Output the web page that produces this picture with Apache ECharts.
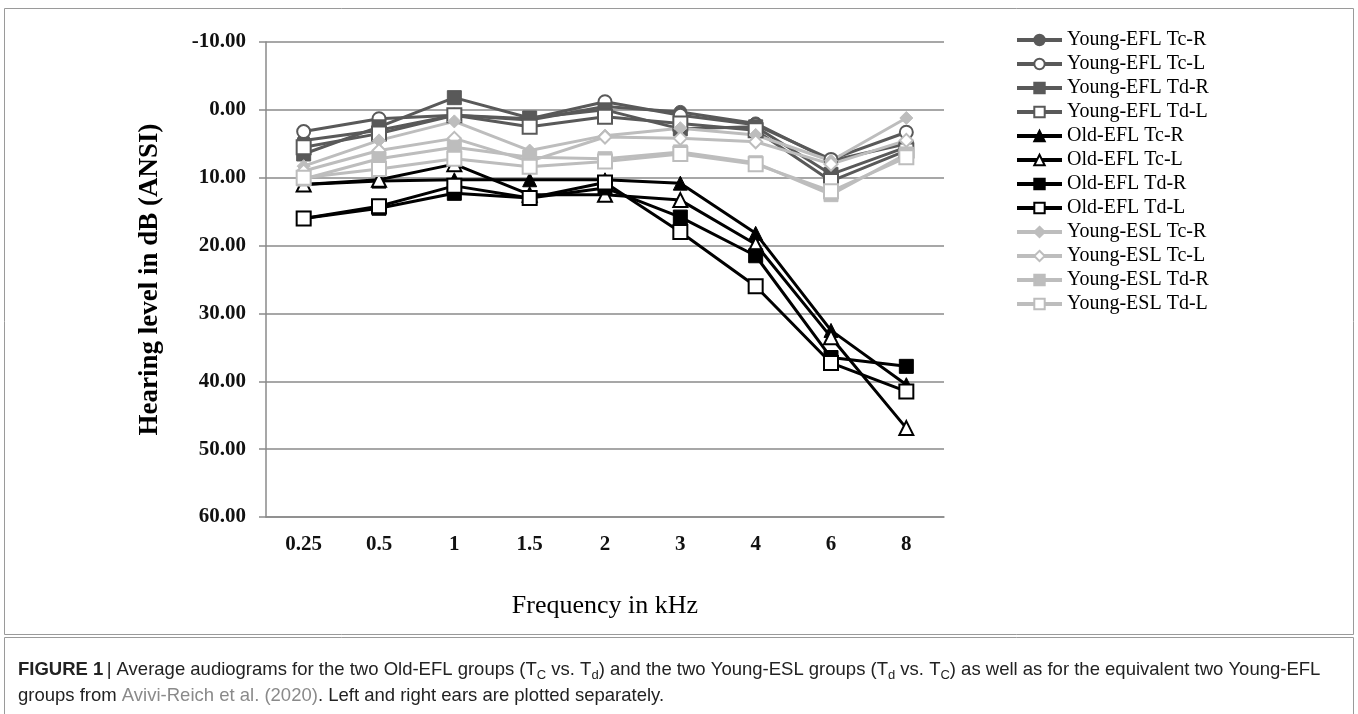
<!DOCTYPE html>
<html>
<head>
<meta charset="utf-8">
<title>Average audiograms</title>
<script src="https://cdn.jsdelivr.net/npm/echarts@6/dist/echarts.min.js"></script>
<style>
  html, body { margin: 0; padding: 0; background: #fff; }
  #chart { width: 1358px; height: 714px; }
</style>
</head>
<body>
<div id="chart"></div>
<script>
// frequencies (kHz)
const categories = ['0.25', '0.5', '1', '1.5', '2', '3', '4', '6', '8']

// hearing level in dB
const youngEflTcR = [4.5, 3.0, 0.8, 1.5, -0.5, 0.3, 2.0, 7.5, 5.0]
const youngEflTcL = [3.2, 1.3, 0.8, 1.3, -1.2, 0.8, 2.2, 7.3, 3.3]
const youngEflTdR = [6.5, 2.5, -1.8, 1.2, 0.0, 2.8, 2.5, 9.5, 5.5]
const youngEflTdL = [5.5, 3.5, 0.8, 2.5, 1.0, 2.0, 3.0, 10.5, 6.0]
const oldEflTcR = [11.0, 10.5, 10.3, 10.3, 10.3, 10.8, 18.2, 32.5, 40.5]
const oldEflTcL = [11.0, 10.3, 8.0, 12.5, 12.5, 13.3, 19.8, 33.5, 46.9]
const oldEflTdR = [16.0, 14.5, 12.3, 13.0, 11.5, 15.8, 21.5, 36.5, 37.8]
const oldEflTdL = [16.0, 14.2, 11.2, 13.0, 10.7, 18.0, 26.0, 37.3, 41.5]
const youngEslTcR = [8.3, 4.5, 1.7, 6.0, 3.8, 2.7, 3.7, 7.5, 1.2]
const youngEslTcL = [9.0, 6.0, 4.2, 7.6, 4.0, 4.2, 4.7, 8.0, 4.5]
const youngEslTdR = [10.2, 7.2, 5.5, 7.0, 7.2, 6.2, 7.8, 12.5, 6.5]
const youngEslTdL = [10.0, 8.7, 7.2, 8.4, 7.6, 6.5, 8.0, 12.0, 7.0]

const yMin = -10
const yMax = 60
const yStep = 10

const DARK = '#595959'
const BLACK = '#000000'
const LIGHT = '#bdbdbd'
const SERIF = '"Liberation Serif", "Times New Roman", serif'
const SANS = '"Liberation Sans Narrow", "Liberation Sans", Arial, sans-serif'

// name, values, colour, symbol, open marker?
const seriesDefs = [
  ['Young-EFL Tc-R', youngEflTcR, DARK, 'circle', false],
  ['Young-EFL Tc-L', youngEflTcL, DARK, 'circle', true],
  ['Young-EFL Td-R', youngEflTdR, DARK, 'rect', false],
  ['Young-EFL Td-L', youngEflTdL, DARK, 'rect', true],
  ['Old-EFL Tc-R', oldEflTcR, BLACK, 'triangle', false],
  ['Old-EFL Tc-L', oldEflTcL, BLACK, 'triangle', true],
  ['Old-EFL Td-R', oldEflTdR, BLACK, 'rect', false],
  ['Old-EFL Td-L', oldEflTdL, BLACK, 'rect', true],
  ['Young-ESL Tc-R', youngEslTcR, LIGHT, 'diamond', false],
  ['Young-ESL Tc-L', youngEslTcL, LIGHT, 'diamond', true],
  ['Young-ESL Td-R', youngEslTdR, LIGHT, 'rect', false],
  ['Young-ESL Td-L', youngEslTdL, LIGHT, 'rect', true]
]

const symbolSizes = { circle: 13, rect: 14, triangle: 14, diamond: 13 }

const series = seriesDefs.map(([name, values, color, symbol, open]) => ({
  name: name,
  type: 'line',
  data: values,
  symbol: symbol,
  symbolSize: symbolSizes[symbol],
  showAllSymbol: true,
  lineStyle: { color: color, width: 3 },
  itemStyle: open
    ? { color: '#ffffff', borderColor: color, borderWidth: 2 }
    : { color: color, borderColor: color, borderWidth: 1 },
  emphasis: { disabled: true }
}))

const myChart = echarts.init(document.getElementById('chart'), null, { renderer: 'canvas' })

const option = {
  backgroundColor: '#ffffff',
  animation: false,
  grid: {
    left: 266,
    right: 414,
    top: 42,
    bottom: 197
  },
  legend: {
    orient: 'vertical',
    left: 1015,
    top: 28,
    padding: 0,
    itemWidth: 45,
    itemHeight: 13,
    itemGap: 0,
    lineStyle: { width: 4 },
    textStyle: {
      fontFamily: SERIF,
      fontSize: 20,
      color: '#000',
      lineHeight: 24
    },
    data: seriesDefs.map(d => d[0])
  },
  xAxis: {
    type: 'category',
    data: categories,
    boundaryGap: true,
    name: 'Frequency in kHz',
    nameLocation: 'middle',
    nameGap: 76,
    nameTextStyle: { fontFamily: SERIF, fontSize: 26, color: '#000' },
    axisLine: { onZero: false, lineStyle: { color: '#8a8a8a', width: 1.5 } },
    axisTick: { show: false },
    axisLabel: {
      margin: 17,
      fontFamily: SERIF,
      fontSize: 21,
      fontWeight: 'bold',
      color: '#111'
    }
  },
  yAxis: {
    type: 'value',
    inverse: true,
    min: yMin,
    max: yMax,
    interval: yStep,
    name: 'Hearing level in dB (ANSI)',
    nameLocation: 'middle',
    nameGap: 102,
    nameTextStyle: { fontFamily: SERIF, fontSize: 27, fontWeight: 'bold', color: '#000' },
    axisLine: { show: true, lineStyle: { color: '#8a8a8a', width: 1.5 } },
    axisTick: { show: true, length: 7, lineStyle: { color: '#8a8a8a', width: 1.5 } },
    splitLine: { lineStyle: { color: '#8a8a8a', width: 1.5 } },
    axisLabel: {
      margin: 20,
      fontFamily: SERIF,
      fontSize: 21,
      fontWeight: 'bold',
      color: '#111',
      formatter: v => v.toFixed(2)
    }
  },
  graphic: [
    {
      type: 'rect',
      shape: { x: 4.5, y: 8.5, width: 1349, height: 626 },
      style: { fill: 'none', stroke: '#9a9a9a', lineWidth: 1 },
      silent: true
    },
    {
      type: 'rect',
      shape: { x: 4.5, y: 637.5, width: 1349, height: 80 },
      style: { fill: 'none', stroke: '#9a9a9a', lineWidth: 1 },
      silent: true
    },
    {
      type: 'text',
      left: 18,
      top: 657,
      style: {
        text: '{b|FIGURE 1} {r|| Average audiograms for the two Old-EFL groups (T}{s|C}{r| vs. T}{s|d}{r|) and the two Young-ESL groups (T}{s|d}{r| vs. T}{s|C}{r|) as well as for the equivalent two Young-EFL}\n' +
          '{r|groups from }{g|Avivi-Reich et al. (2020)}{r|. Left and right ears are plotted separately.}',
        fill: '#222',
        rich: {
          b: { fontFamily: SANS, fontSize: 18.5, fontWeight: 'bold', lineHeight: 26, fill: '#222' },
          r: { fontFamily: SANS, fontSize: 18.5, lineHeight: 26, fill: '#222' },
          g: { fontFamily: SANS, fontSize: 18.5, lineHeight: 26, fill: '#8a8a8a' },
          s: { fontFamily: SANS, fontSize: 13, lineHeight: 26, padding: [12, 0, 0, 0], fill: '#222' }
        }
      },
      silent: true
    }
  ],
  series: series
}

myChart.setOption(option)
window.addEventListener('resize', () => myChart.resize())
</script>
</body>
</html>
